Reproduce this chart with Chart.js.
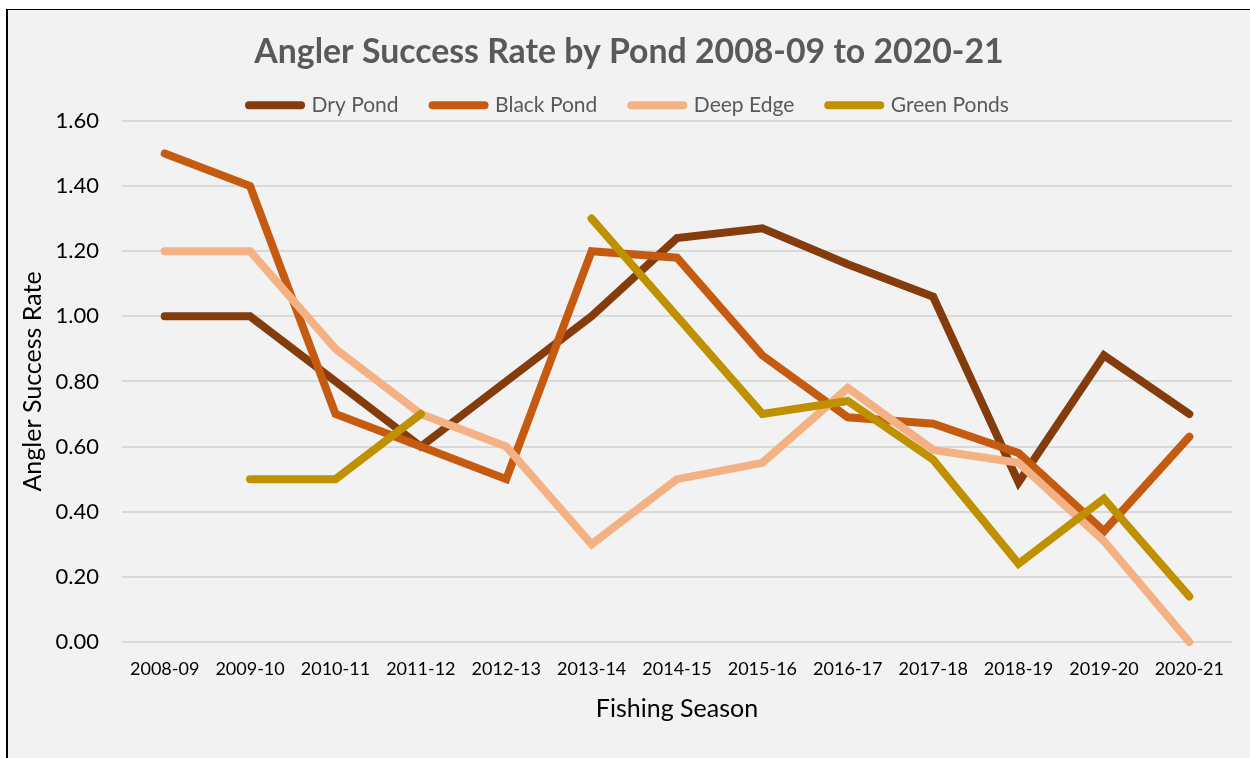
<!DOCTYPE html>
<html>
<head>
<meta charset="utf-8">
<title>Angler Success Rate by Pond</title>
<script src="https://cdn.jsdelivr.net/npm/chart.js@4.4.0/dist/chart.umd.min.js"></script>
<style>
  html, body { margin: 0; padding: 0; background: #fff; }
  #frame {
    position: absolute; left: 6px; top: 9px;
    width: 1242px; height: 748px;
    border-left: 2px solid #000; border-top: 1px solid #000;
    background: #f2f2f2;
  }
  #frame canvas { display: block; }
</style>
</head>
<body>
<div id="frame"><canvas id="pondChart" width="1242" height="748"></canvas></div>
<script>
// Seasons along the x axis
const seasons = ['2008-09', '2009-10', '2010-11', '2011-12', '2012-13', '2013-14', '2014-15',
  '2015-16', '2016-17', '2017-18', '2018-19', '2019-20', '2020-21'];

// Success rate per pond (null = no survey that season)
const dryPond    = [1.00, 1.00, 0.80, 0.60, 0.80, 1.00, 1.24, 1.27, 1.16, 1.06, 0.49, 0.88, 0.70];
const blackPond  = [1.50, 1.40, 0.70, 0.60, 0.50, 1.20, 1.18, 0.88, 0.69, 0.67, 0.58, 0.34, 0.63];
const deepEdge   = [1.20, 1.20, 0.90, 0.70, 0.60, 0.30, 0.50, 0.55, 0.78, 0.59, 0.55, 0.31, 0.00];
const greenPonds = [null, 0.50, 0.50, 0.70, null, 1.30, 1.00, 0.70, 0.74, 0.56, 0.24, 0.44, 0.14];

const pondNames  = ['Dry Pond', 'Black Pond', 'Deep Edge', 'Green Ponds'];
const pondColors = ['#843c0c', '#c55a11', '#f4b183', '#bf9000'];

// y axis range
const yMin = 0, yMax = 1.6, yStep = 0.2;

Chart.defaults.font.family = 'Lato, "Open Sans", sans-serif';

// Legend rows get a fixed 10px extra below; take some of it back so the
// plot starts closer under the legend.
const legendTrim = {
  id: 'legendTrim',
  beforeLayout(chart) {
    const lg = chart.legend;
    if (!lg || lg._trimmed) return;
    const fit = lg.fit;
    lg.fit = function () {
      fit.call(this);
      this.height -= 5;
    };
    lg._trimmed = true;
  }
};

const series = [dryPond, blackPond, deepEdge, greenPonds];
const datasets = series.map((values, i) => ({
  label: pondNames[i],
  data: values,
  borderColor: pondColors[i],
  backgroundColor: pondColors[i],
  borderWidth: 8,
  borderCapStyle: 'round',
  pointRadius: 0,
  pointHoverRadius: 0,
  tension: 0,
  spanGaps: false,
  clip: false,
  // later series sit on top of earlier ones
  order: series.length - i
}));

new Chart(document.getElementById('pondChart'), {
  type: 'line',
  data: { labels: seasons, datasets },
  plugins: [legendTrim],
  options: {
    responsive: false,
    animation: false,
    layout: { padding: 0 },
    plugins: {
      tooltip: { enabled: false },
      title: {
        display: true,
        text: 'Angler Success Rate by Pond 2008-09 to 2020-21',
        color: '#595959',
        font: { size: 33.8, weight: 'bold' },
        padding: { top: 21.7, bottom: -11.4 }
      },
      legend: {
        position: 'top',
        labels: {
          usePointStyle: true,
          pointStyleWidth: 52,
          padding: 34,
          color: '#595959',
          font: { size: 21 },
          generateLabels: () => pondNames.map((name, i) => ({
            text: name,
            fillStyle: pondColors[i],
            strokeStyle: pondColors[i],
            lineWidth: 8,
            lineCap: 'round',
            pointStyle: 'line',
            fontColor: '#595959',
            hidden: false,
            datasetIndex: i
          }))
        }
      }
    },
    scales: {
      x: {
        offset: true,
        grid: { display: false, drawTicks: false },
        border: { display: false },
        ticks: { color: '#000', font: { size: 18 }, padding: 16, maxRotation: 0, autoSkip: false },
        title: {
          display: true,
          text: 'Fishing Season',
          color: '#000',
          font: { size: 25 },
          padding: { top: 0, bottom: 34 }
        },
        afterFit: (scale) => { scale.height = 116; }
      },
      y: {
        min: yMin,
        max: yMax,
        grid: { color: '#d9d9d9', lineWidth: 2, drawTicks: false },
        border: { display: false },
        ticks: {
          stepSize: yStep,
          color: '#000',
          font: { size: 22 },
          padding: 23,
          callback: (v) => Number(v).toFixed(2)
        },
        title: {
          display: true,
          text: 'Angler Success Rate',
          color: '#000',
          font: { size: 25 },
          padding: { top: 10, bottom: 0 }
        },
        afterFit: (scale) => { scale.width = 114; }
      },
      // empty right-hand margin strip, keeps title and legend centred on the full width
      yRight: {
        type: 'linear',
        position: 'right',
        grid: { display: false, drawTicks: false },
        border: { display: false },
        ticks: { display: false },
        afterFit: (scale) => { scale.width = 18; }
      }
    }
  }
});
</script>
</body>
</html>
